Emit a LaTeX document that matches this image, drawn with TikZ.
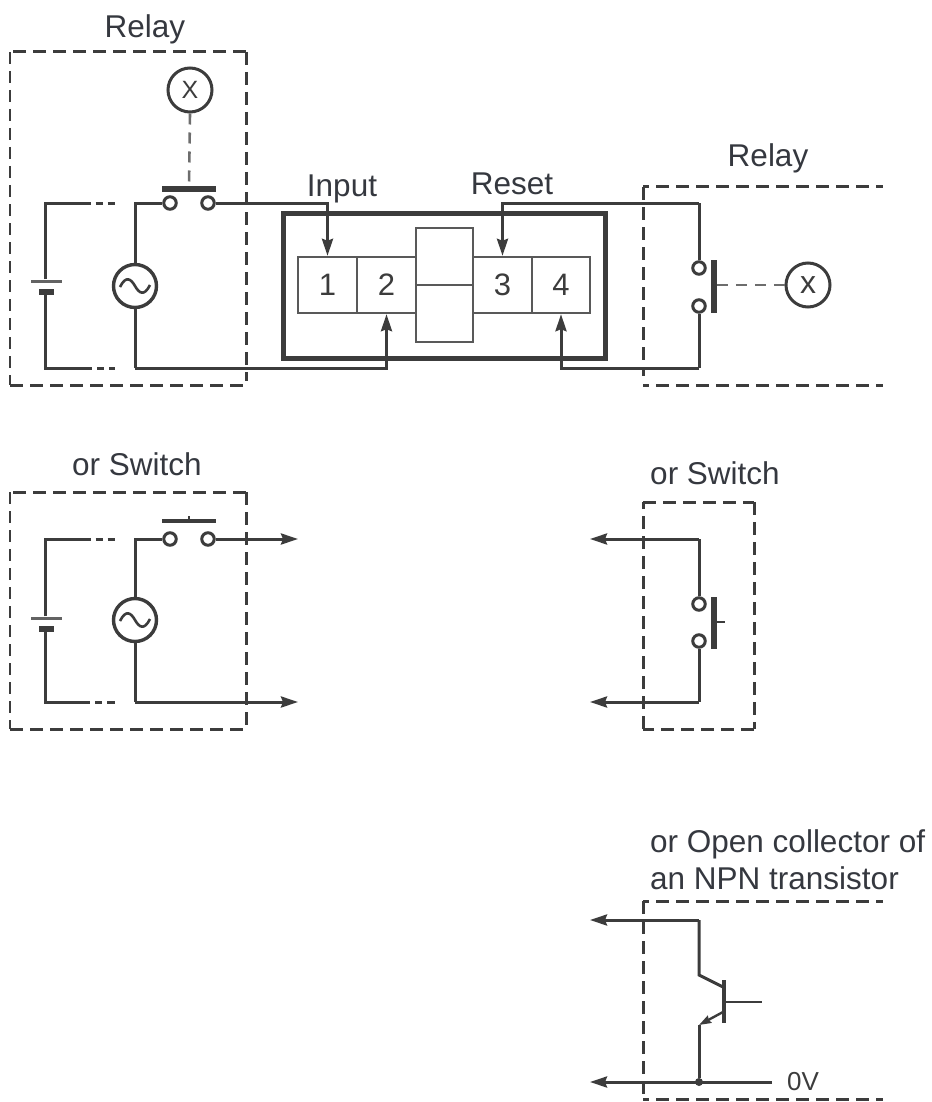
\documentclass[tikz,border=0pt]{standalone}
\usepackage{fontspec}
\setmainfont{Liberation Sans}
\usetikzlibrary{arrows.meta,calc}
\definecolor{ink}{HTML}{3C3C3C}
\definecolor{txt}{HTML}{35383F}
\tikzset{
  wire/.style={draw=ink,line width=3pt},
  awire/.style={wire,-{Stealth[length=17pt,width=11pt,inset=2pt]}},
  frame/.style={draw=ink,line width=3pt,dash pattern=on 13pt off 7pt},
  frameOpen/.style={frame,dash phase=7pt},
  frameThin/.style={draw=ink,line width=2.2pt,dash pattern=on 12pt off 7pt},
  link/.style={draw=ink!75,line width=2.6pt,dash pattern=on 11pt off 8pt},
  lbl/.style={text=txt,font=\fontsize{31.5}{35}\selectfont,inner sep=0pt},
  contact/.style={circle,draw=ink,line width=3pt,fill=white,minimum size=12.5pt,inner sep=0pt},
  lamp/.style={circle,draw=ink,line width=3pt,fill=white,minimum size=44pt,inner sep=0pt,text=ink,font=\fontsize{25}{25}\selectfont},
  acsrc/.style={circle,draw=ink,line width=3.4pt,fill=white,minimum size=43pt,inner sep=0pt,
    path picture={\draw[ink,line width=2.6pt,shift={(path picture bounding box.center)}]
      (-15,1) .. controls (-9,-11) and (-4,-7) .. (0,0) .. controls (4,7) and (9,11) .. (15,-1);}},
  plateL/.style={fill=ink!80,minimum width=31pt,minimum height=3pt,inner sep=0pt},
  plateS/.style={fill=ink,minimum width=15pt,minimum height=6pt,inner sep=0pt},
  barH/.style={fill=ink,minimum width=54pt,minimum height=5.5pt,inner sep=0pt},
  barV/.style={fill=ink,minimum width=5.5pt,minimum height=53pt,inner sep=0pt},
  cell/.style={draw=ink!85,line width=2.4pt,fill=white,minimum width=58.5pt,minimum height=56pt,inner sep=0pt,text=ink,font=\fontsize{31}{31}\selectfont},
  midcell/.style={draw=ink!85,line width=2.4pt,fill=white,minimum width=57pt,minimum height=114pt,inner sep=0pt},
  housing/.style={draw=ink,line width=5pt,fill=white,minimum width=322pt,minimum height=145pt,inner sep=0pt},
}
\begin{document}
\begin{tikzpicture}[x=1pt,y=-1pt]
\useasboundingbox (0,0) rectangle (931,1102);
% ---- labels
\node[lbl] (lRelayA) at (145,29) {Relay};
\node[lbl] (lRelayB) at (768,158) {Relay};
\node[lbl] (lInput) at (342,189) {Input};
\node[lbl] (lReset) at (512,184) {Reset};
\node[lbl] (lSwitchA) at (137,464) {or Switch};
\node[lbl] (lSwitchB) at (715,473) {or Switch};
\node[lbl,anchor=west] (lOpenA) at (650,844) {or Open collector of};
\node[lbl,anchor=west] (lOpenB) at (650,878) {an NPN transistor};
\node[text=ink,font=\fontsize{26}{26}\selectfont,inner sep=0pt] (lZero) at (803,1082) {0V};
% ---- controller block
\node[housing] (box) at (444,285.5) {};
\node[cell] (t1) at (327.5,285) {1};
\node[cell] (t2) at (386.5,285) {2};
\node[cell] (t3) at (502.5,285) {3};
\node[cell] (t4) at (561,285) {4};
\node[midcell] (m1) at (444.5,285) {};
\draw[draw=ink!85,line width=2.4pt] (m1.west) -- (m1.east);
% ---- left relay
\draw[frame] (246,52) -- (10,52);
\draw[frameThin] (10,52) -- (10,385);
\draw[frame] (10,385) -- (246,385);
\draw[frame] (246,52) -- (246,381);
\node[plateL] (b1) at (46,281) {};
\node[plateS] (b2) at (46,292) {};
\node[acsrc] (ac1) at (135,286) {};
\node[contact] (c1) at (170,203) {};
\node[contact] (c2) at (208,203) {};
\node[barH] (bar1) at (189,189) {};
\node[lamp] (x1) at (190,90) {X};
\coordinate (g1t) at (115,203);
\coordinate (g1b) at (115,368);
\coordinate (w1b) at (135,368);
\draw[wire,dash pattern=on 122pt off 5pt on 7pt off 5pt on 10pt] (b1.north) ++(-1,0) |- (g1t);
\draw[wire,dash pattern=on 120pt off 5pt on 7pt off 5pt on 10pt] (b2.south) ++(-1,0) |- (g1b);
\draw[wire] (ac1.north) |- (c1.west);
\draw[wire] (ac1.south) -- (w1b);
\draw[link] (x1.south) -- (bar1.north);
\draw[awire] (c2.east) -| (t1.north);
\draw[awire] (w1b) -| (t2.south);
% ---- right relay
\draw[frameOpen] (643,187) -- (883,187);
\draw[frameOpen] (643,385) -- (883,385);
\draw[frame] (643,187) -- (643,376);
\node[contact] (c3) at (699,268) {};
\node[contact] (c4) at (699,306) {};
\node[barV] (bar2) at (714,286.5) {};
\node[lamp,font=\fontsize{32}{32}\selectfont] (x2) at (808,285) {x};
\coordinate (w2t) at (699,203);
\coordinate (w2b) at (699,368);
\draw[wire] (c3.north) -- (w2t);
\draw[wire] (c4.south) -- (w2b);
\draw[awire] (w2t) -| (t3.north);
\draw[awire] (w2b) -| (t4.south);
\draw[link] (bar2.east) ++(0,-1.5) -- (x2.west);
% ---- left switch
\draw[frame] (246,492) -- (10,492);
\draw[frameThin] (10,492) -- (10,729);
\draw[frame] (10,729) -- (246,729);
\draw[frame] (246,492) -- (246,729);
\node[plateL] (b3) at (46,618) {};
\node[plateS] (b4) at (46,629) {};
\node[acsrc] (ac2) at (135,620) {};
\node[contact] (c5) at (170,539) {};
\node[contact] (c6) at (208,539) {};
\node[barH,minimum height=3.5pt] (bar3) at (189,521) {};
\coordinate (tick1) at (189,516);
\coordinate (g2t) at (115,539);
\coordinate (g2b) at (115,702);
\coordinate (e1) at (298,539);
\coordinate (e2) at (298,702);
\coordinate (w3b) at (135,702);
\draw[wire,dash pattern=on 123pt off 5pt on 7pt off 5pt on 10pt] (b3.north) ++(-1,0) |- (g2t);
\draw[wire,dash pattern=on 115pt off 5pt on 7pt off 5pt on 10pt] (b4.south) ++(-1,0) |- (g2b);
\draw[wire] (ac2.north) |- (c5.west);
\draw[wire] (ac2.south) -- (w3b);
\draw[awire] (w3b) -- (e2);
\draw[awire] (c6.east) -- (e1);
\draw[draw=ink,line width=1.6pt] (bar3.north) -- (tick1);
% ---- right switch
\draw[frame] (643,502) -- (754,502);
\draw[frame] (754,502) -- (754,729);
\draw[frame] (754,729) -- (643,729);
\draw[frame] (643,729) -- (643,502);
\node[contact] (c7) at (699,604) {};
\node[contact] (c8) at (699,641) {};
\node[barV,minimum height=52pt] (bar4) at (714,623) {};
\coordinate (tick2) at (725,622);
\coordinate (w4t) at (699,539);
\coordinate (w4b) at (699,702);
\coordinate (e3) at (590,539);
\coordinate (e4) at (590,702);
\draw[wire] (c7.north) -- (w4t);
\draw[wire] (c8.south) -- (w4b);
\draw[awire] (w4t) -- (e3);
\draw[awire] (w4b) -- (e4);
\draw[draw=ink,line width=1.6pt] (bar4.east) ++(0,-1) -- (tick2);
% ---- transistor
\draw[frameOpen] (643,901) -- (883,901);
\draw[frameOpen] (643,1099) -- (883,1099);
\draw[frame] (643,901) -- (643,1094);
\node[fill=ink,minimum width=4pt,minimum height=43pt,inner sep=0pt] (q) at (724,1001) {};
\node[fill=ink,circle,minimum size=8pt,inner sep=0pt] (dot) at (699,1082) {};
\coordinate (w5t) at (699,920);
\coordinate (cEl) at (699,975);
\coordinate (cEr) at (723,987);
\coordinate (eEr) at (723,1012);
\coordinate (eEl) at (699,1025);
\coordinate (bEnd) at (762,1002);
\coordinate (e5) at (590,920);
\coordinate (e6) at (590,1082);
\coordinate (e7) at (772,1082);
\draw[awire] (w5t) -- (e5);
\draw[wire] (w5t) -- (cEl) -- (cEr);
\draw[wire,line width=2.4pt,-{Stealth[length=12pt,width=8pt,inset=1pt]}] (eEr) -- (eEl);
\draw[wire] (eEl) -- (dot.north);
\draw[wire,line width=2.4pt] (q.east) ++(0,1) -- (bEnd);
\draw[awire] (e7) -- (e6);
\end{tikzpicture}
\end{document}
